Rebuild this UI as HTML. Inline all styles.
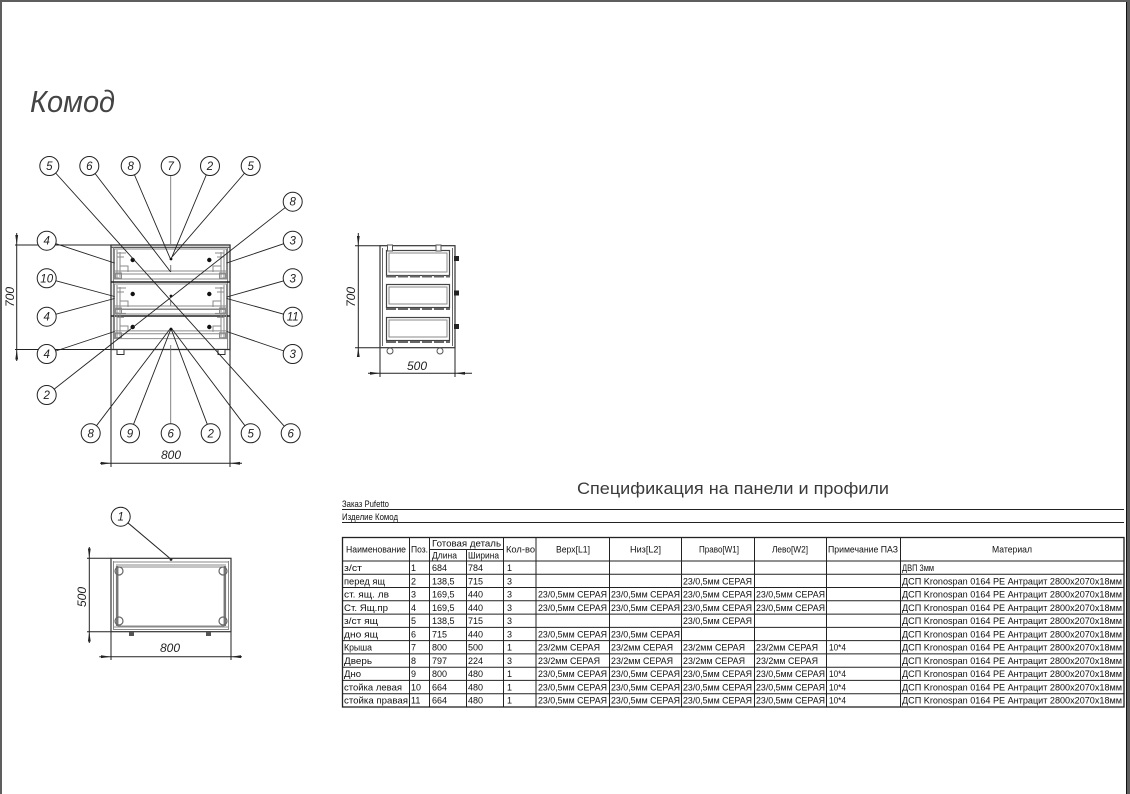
<!DOCTYPE html>
<html><head><meta charset="utf-8">
<style>
html,body{margin:0;padding:0;background:#5e5e5e;}
svg{display:block;}
text{font-family:"Liberation Sans","Noto Sans CJK SC",sans-serif;}
</style></head>
<body>
<svg width="1130" height="794" viewBox="0 0 1130 794" xmlns="http://www.w3.org/2000/svg">
<rect x="0" y="0" width="1130" height="794" fill="#5e5e5e"/>
<rect x="2" y="2" width="1124" height="792" fill="#fff"/>
<line x1="1126.5" y1="2" x2="1126.5" y2="794" stroke="#111" stroke-width="1"/>

<!-- Title -->
<text x="30" y="112" font-size="31" font-style="italic" fill="#444" textLength="85" lengthAdjust="spacingAndGlyphs">Комод</text>

<!-- ===== FRONT VIEW ===== -->
<g stroke="#222" fill="none" stroke-width="1">
  <line x1="15" y1="245" x2="111" y2="245"/>
  <line x1="15" y1="349.5" x2="111" y2="349.5"/>
  <line x1="16.7" y1="233" x2="16.7" y2="361"/>
  <line x1="111" y1="349" x2="111" y2="467"/>
  <line x1="230" y1="349" x2="230" y2="467"/>
  <line x1="100" y1="463.3" x2="242" y2="463.3"/>
</g>
<g fill="#222">
  <polygon points="16.7,245 15.3,235 18.1,235"/>
  <polygon points="16.7,349.5 15.3,359.5 18.1,359.5"/>
  <polygon points="111,463.3 101,461.9 101,464.7"/>
  <polygon points="230,463.3 240,461.9 240,464.7"/>
</g>
<text x="0" y="0" font-size="12" font-style="italic" fill="#222" text-anchor="middle" transform="translate(14,297) rotate(-90)">700</text>
<text x="171" y="459" font-size="12" font-style="italic" fill="#222" text-anchor="middle">800</text>

<g fill="none">
  <rect x="111" y="245" width="119" height="104.5" stroke="#333" stroke-width="1.3"/>
  <line x1="111" y1="247.3" x2="230" y2="247.3" stroke="#444" stroke-width="1.2"/>
  <line x1="113.4" y1="247" x2="113.4" y2="349" stroke="#777" stroke-width="1"/>
  <line x1="227.6" y1="247" x2="227.6" y2="349" stroke="#777" stroke-width="1"/>
  <line x1="111" y1="282" x2="230" y2="282" stroke="#222" stroke-width="1.6"/>
  <line x1="111" y1="316" x2="230" y2="316" stroke="#222" stroke-width="1.6"/>
</g>
<g id="dr1" fill="none" stroke="#8a8a8a" stroke-width="1">
  <rect x="114.5" y="249" width="112" height="30"/>
  <line x1="114" y1="271" x2="227" y2="271"/>
  <line x1="114" y1="274" x2="227" y2="274"/>
  <line x1="117" y1="250" x2="117" y2="279"/>
  <line x1="120" y1="252" x2="120" y2="277"/>
  <line x1="117" y1="253" x2="126" y2="253"/>
  <line x1="117" y1="257" x2="124" y2="257"/>
  <polyline points="120,266 128,266 128,272"/>
  <rect x="115.5" y="273" width="6" height="5"/>
  <line x1="224" y1="250" x2="224" y2="279"/>
  <line x1="221" y1="252" x2="221" y2="277"/>
  <line x1="224" y1="253" x2="215" y2="253"/>
  <line x1="224" y1="257" x2="217" y2="257"/>
  <polyline points="221,266 213,266 213,272"/>
  <rect x="219.5" y="273" width="6" height="5"/>
</g>
<use href="#dr1" transform="translate(0,35)"/>
<use href="#dr1" transform="translate(0,68) scale(1,0.97)"/>
<g fill="#fff" stroke="#333" stroke-width="1">
  <rect x="117" y="349.5" width="7" height="5"/>
  <rect x="218" y="349.5" width="7" height="5"/>
</g>
<g fill="#111">
  <circle cx="132.7" cy="260" r="2.2"/>
  <circle cx="209.3" cy="260" r="2.2"/>
  <circle cx="132.7" cy="294" r="2.2"/>
  <circle cx="209.3" cy="294" r="2.2"/>
  <circle cx="132.7" cy="327" r="2.2"/>
  <circle cx="209.3" cy="327" r="2.2"/>
  <circle cx="171" cy="259" r="1.4"/>
  <circle cx="171" cy="296" r="1.4"/>
  <circle cx="171" cy="329" r="1.4"/>
</g>
<g stroke="#777" stroke-width="1">
  <line x1="170.7" y1="265" x2="170.7" y2="272"/>
  <line x1="170.7" y1="300" x2="170.7" y2="306"/>
</g>

<g stroke="#222" stroke-width="0.9" fill="none">
  <line x1="49.3" y1="166" x2="290.7" y2="433.3"/>
  <line x1="89.3" y1="166" x2="170.7" y2="272"/>
  <line x1="130.7" y1="166" x2="170" y2="258"/>
  <line x1="170.7" y1="166" x2="170.7" y2="245" stroke="#777"/>
  <line x1="210" y1="166" x2="171.5" y2="258"/>
  <line x1="250.7" y1="166" x2="172" y2="257"/>
  <line x1="292.7" y1="201.7" x2="46.7" y2="395"/>
  <line x1="292.7" y1="240.7" x2="226.7" y2="263"/>
  <line x1="292.7" y1="278.3" x2="226.7" y2="297"/>
  <line x1="292.7" y1="316.7" x2="226.7" y2="298.5"/>
  <line x1="292.7" y1="354" x2="226.7" y2="331.5"/>
  <line x1="46.7" y1="240.7" x2="114.5" y2="263"/>
  <line x1="46.7" y1="278.3" x2="114.5" y2="296.5"/>
  <line x1="46.7" y1="316.7" x2="114.5" y2="298.5"/>
  <line x1="46.7" y1="354" x2="114.5" y2="331.5"/>
  <line x1="90.7" y1="433.3" x2="170" y2="329"/>
  <line x1="130" y1="433.3" x2="170.5" y2="330"/>
  <line x1="170.7" y1="433.3" x2="170.7" y2="345" stroke="#777"/>
  <line x1="210.7" y1="433.3" x2="171.5" y2="330"/>
  <line x1="250.7" y1="433.3" x2="172" y2="329"/>
</g>
<g fill="#fff" stroke="#222" stroke-width="1">
  <circle cx="49.3" cy="166" r="9.5"/><circle cx="89.3" cy="166" r="9.5"/><circle cx="130.7" cy="166" r="9.5"/>
  <circle cx="170.7" cy="166" r="9.5"/><circle cx="210" cy="166" r="9.5"/><circle cx="250.7" cy="166" r="9.5"/>
  <circle cx="292.7" cy="201.7" r="9.5"/><circle cx="292.7" cy="240.7" r="9.5"/><circle cx="292.7" cy="278.3" r="9.5"/>
  <circle cx="292.7" cy="316.7" r="9.5"/><circle cx="292.7" cy="354" r="9.5"/>
  <circle cx="46.7" cy="240.7" r="9.5"/><circle cx="46.7" cy="278.3" r="9.5"/><circle cx="46.7" cy="316.7" r="9.5"/>
  <circle cx="46.7" cy="354" r="9.5"/><circle cx="46.7" cy="395" r="9.5"/>
  <circle cx="90.7" cy="433.3" r="9.5"/><circle cx="130" cy="433.3" r="9.5"/><circle cx="170.7" cy="433.3" r="9.5"/>
  <circle cx="210.7" cy="433.3" r="9.5"/><circle cx="250.7" cy="433.3" r="9.5"/><circle cx="290.7" cy="433.3" r="9.5"/>
</g>
<g font-size="11.5" font-style="italic" fill="#222" text-anchor="middle">
  <text x="49.3" y="170">5</text><text x="89.3" y="170">6</text><text x="130.7" y="170">8</text>
  <text x="170.7" y="170">7</text><text x="210" y="170">2</text><text x="250.7" y="170">5</text>
  <text x="292.7" y="205.7">8</text><text x="292.7" y="244.7">3</text><text x="292.7" y="282.3">3</text>
  <text x="292.7" y="320.7">11</text><text x="292.7" y="358">3</text>
  <text x="46.7" y="244.7">4</text><text x="46.7" y="282.3">10</text><text x="46.7" y="320.7">4</text>
  <text x="46.7" y="358">4</text><text x="46.7" y="399">2</text>
  <text x="90.7" y="437.3">8</text><text x="130" y="437.3">9</text><text x="170.7" y="437.3">6</text>
  <text x="210.7" y="437.3">2</text><text x="250.7" y="437.3">5</text><text x="290.7" y="437.3">6</text>
</g>

<!-- ===== SIDE VIEW ===== -->
<g stroke="#222" fill="none" stroke-width="1">
  <line x1="355" y1="245.7" x2="380" y2="245.7"/>
  <line x1="355" y1="347.7" x2="380" y2="347.7"/>
  <line x1="358.3" y1="233" x2="358.3" y2="357"/>
  <line x1="380" y1="348" x2="380" y2="377"/>
  <line x1="455" y1="348" x2="455" y2="377"/>
  <line x1="368" y1="373.3" x2="472" y2="373.3"/>
</g>
<g fill="#222">
  <polygon points="358.3,245.7 356.9,236 359.7,236"/>
  <polygon points="358.3,347.7 356.9,357 359.7,357"/>
  <polygon points="380,373.3 370,371.9 370,374.7"/>
  <polygon points="455,373.3 465,371.9 465,374.7"/>
</g>
<text x="0" y="0" font-size="12" font-style="italic" fill="#222" text-anchor="middle" transform="translate(355,297) rotate(-90)">700</text>
<text x="417" y="370" font-size="12" font-style="italic" fill="#222" text-anchor="middle">500</text>
<g fill="none">
  <rect x="380" y="245.7" width="75" height="102" stroke="#333" stroke-width="1.2"/>
  <line x1="382.5" y1="248" x2="382.5" y2="346" stroke="#666"/>
  <line x1="452.5" y1="248" x2="452.5" y2="346" stroke="#666"/>
  <g stroke="#444" stroke-width="1.2">
    <rect x="386.5" y="250.5" width="63" height="25"/>
    <rect x="386.5" y="284.5" width="63" height="23"/>
    <rect x="386.5" y="317.5" width="63" height="23"/>
  </g>
  <g stroke="#8a8a8a" stroke-width="1">
    <rect x="389" y="253" width="58" height="19"/>
    <rect x="389" y="287" width="58" height="17"/>
    <rect x="389" y="320" width="58" height="17"/>
  </g>
  <g stroke="#666" stroke-width="2" stroke-dasharray="10,2">
    <line x1="386" y1="276.5" x2="450" y2="276.5"/>
    <line x1="386" y1="309" x2="450" y2="309"/>
    <line x1="386" y1="342" x2="450" y2="342"/>
  </g>
</g>
<g fill="#222">
  <rect x="454" y="256" width="5" height="5"/>
  <rect x="454" y="290.5" width="5" height="5"/>
  <rect x="454" y="324" width="5" height="5"/>
</g>
<g fill="#fff" stroke="#555" stroke-width="1">
  <rect x="387.5" y="245" width="5" height="6"/>
  <rect x="436" y="245" width="5" height="6"/>
  <circle cx="390" cy="351" r="3"/>
  <circle cx="440" cy="351" r="3"/>
</g>

<!-- ===== TOP VIEW ===== -->
<g stroke="#222" fill="none" stroke-width="1">
  <line x1="87" y1="558.3" x2="111" y2="558.3"/>
  <line x1="87" y1="631.7" x2="111" y2="631.7"/>
  <line x1="89.3" y1="547" x2="89.3" y2="643"/>
  <line x1="111" y1="632" x2="111" y2="660"/>
  <line x1="231" y1="632" x2="231" y2="660"/>
  <line x1="99.3" y1="656.7" x2="242" y2="656.7"/>
  <line x1="120.7" y1="516.7" x2="171" y2="559.3"/>
</g>
<g fill="#222">
  <polygon points="89.3,558.3 87.9,548.5 90.7,548.5"/>
  <polygon points="89.3,631.7 87.9,641.5 90.7,641.5"/>
  <polygon points="111,656.7 101,655.3 101,658.1"/>
  <polygon points="231,656.7 241,655.3 241,658.1"/>
  <circle cx="171" cy="559.5" r="1.4"/>
</g>
<circle cx="120.7" cy="516.7" r="9.5" fill="#fff" stroke="#222"/>
<text x="120.7" y="520.7" font-size="11.5" font-style="italic" fill="#222" text-anchor="middle">1</text>
<text x="0" y="0" font-size="12" font-style="italic" fill="#222" text-anchor="middle" transform="translate(86,597) rotate(-90)">500</text>
<text x="170" y="652" font-size="12" font-style="italic" fill="#222" text-anchor="middle">800</text>
<g fill="none">
  <rect x="111" y="558.3" width="120" height="73.4" stroke="#333" stroke-width="1.2"/>
  <g stroke="#888" stroke-width="1">
    <line x1="113" y1="562" x2="229" y2="562"/>
    <line x1="116" y1="565" x2="226" y2="565"/>
    <rect x="118" y="567" width="106" height="59"/>
    <line x1="114" y1="627" x2="228" y2="627"/>
    <line x1="114" y1="629.5" x2="228" y2="629.5"/>
    <line x1="113.5" y1="561" x2="113.5" y2="630"/>
    <line x1="228.5" y1="561" x2="228.5" y2="630"/>
  </g>
  <g stroke="#777" stroke-width="2.2">
    <line x1="117" y1="566" x2="117" y2="626"/>
    <line x1="225" y1="566" x2="225" y2="626"/>
  </g>
  <g stroke="#666" stroke-width="1.2">
    <circle cx="119" cy="571" r="4"/><circle cx="223" cy="571" r="4"/>
    <circle cx="119" cy="621" r="4"/><circle cx="223" cy="621" r="4"/>
  </g>
</g>
<g fill="#555">
  <rect x="129" y="632" width="5" height="4"/>
  <rect x="206" y="632" width="5" height="4"/>
</g>

<!-- ===== SPECIFICATION ===== -->
<text x="577" y="494" font-size="17" fill="#3a3a3a" textLength="312" lengthAdjust="spacingAndGlyphs">Спецификация на панели и профили</text>
<g font-size="9.5" fill="#111">
  <text x="342" y="507" textLength="47" lengthAdjust="spacingAndGlyphs">Заказ  Pufetto</text>
  <text x="342" y="520" textLength="56" lengthAdjust="spacingAndGlyphs">Изделие  Комод</text>
</g>
<g stroke="#222" stroke-width="1">
  <line x1="342" y1="509.5" x2="1124" y2="509.5"/>
  <line x1="342" y1="522.5" x2="1124" y2="522.5"/>
</g>

<g stroke="#222" stroke-width="1" fill="none">
  <rect x="342.5" y="537.5" width="781.5" height="169.5" stroke-width="1.3"/>
  <line x1="409.5" y1="537.5" x2="409.5" y2="707"/>
  <line x1="429.5" y1="537.5" x2="429.5" y2="707"/>
  <line x1="466.5" y1="549.5" x2="466.5" y2="707"/>
  <line x1="503.5" y1="537.5" x2="503.5" y2="707"/>
  <line x1="536" y1="537.5" x2="536" y2="707"/>
  <line x1="609.5" y1="537.5" x2="609.5" y2="707"/>
  <line x1="681.5" y1="537.5" x2="681.5" y2="707"/>
  <line x1="754.5" y1="537.5" x2="754.5" y2="707"/>
  <line x1="826.5" y1="537.5" x2="826.5" y2="707"/>
  <line x1="900.5" y1="537.5" x2="900.5" y2="707"/>
  <line x1="429.5" y1="549.5" x2="503.5" y2="549.5"/>
  <line x1="342.5" y1="561" x2="1124" y2="561"/>
  <line x1="342.5" y1="574.3" x2="1124" y2="574.3"/>
  <line x1="342.5" y1="587.5" x2="1124" y2="587.5"/>
  <line x1="342.5" y1="600.8" x2="1124" y2="600.8"/>
  <line x1="342.5" y1="614.1" x2="1124" y2="614.1"/>
  <line x1="342.5" y1="627.4" x2="1124" y2="627.4"/>
  <line x1="342.5" y1="640.6" x2="1124" y2="640.6"/>
  <line x1="342.5" y1="653.9" x2="1124" y2="653.9"/>
  <line x1="342.5" y1="667.2" x2="1124" y2="667.2"/>
  <line x1="342.5" y1="680.4" x2="1124" y2="680.4"/>
  <line x1="342.5" y1="693.7" x2="1124" y2="693.7"/>
</g>

<g font-size="9" fill="#111">
  <text x="346" y="552.5" textLength="60" lengthAdjust="spacingAndGlyphs">Наименование</text>
  <text x="411" y="552.5" textLength="17" lengthAdjust="spacingAndGlyphs">Поз.</text>
  <text x="432" y="546.5" textLength="69" lengthAdjust="spacingAndGlyphs">Готовая  деталь</text>
  <text x="432" y="558.5" textLength="25" lengthAdjust="spacingAndGlyphs">Длина</text>
  <text x="468" y="558.5" textLength="31" lengthAdjust="spacingAndGlyphs">Ширина</text>
  <text x="506" y="552.5" textLength="29" lengthAdjust="spacingAndGlyphs">Кол-во</text>
  <text x="556" y="552.5" textLength="34" lengthAdjust="spacingAndGlyphs">Верх[L1]</text>
  <text x="630" y="552.5" textLength="31" lengthAdjust="spacingAndGlyphs">Низ[L2]</text>
  <text x="699" y="552.5" textLength="40" lengthAdjust="spacingAndGlyphs">Право[W1]</text>
  <text x="772" y="552.5" textLength="36" lengthAdjust="spacingAndGlyphs">Лево[W2]</text>
  <text x="828" y="552.5" textLength="70" lengthAdjust="spacingAndGlyphs">Примечание  ПАЗ</text>
  <text x="992" y="552.5" textLength="40" lengthAdjust="spacingAndGlyphs">Материал</text>
</g>

<g font-size="9" fill="#111">
  <text x="344" y="571" textLength="18" lengthAdjust="spacingAndGlyphs">з/ст</text>
  <text x="411" y="571">1</text><text x="432" y="571">684</text><text x="468" y="571">784</text><text x="507" y="571">1</text>
  <text x="902" y="571" textLength="32" lengthAdjust="spacingAndGlyphs">ДВП    3мм</text>

  <text x="344" y="584.3" textLength="41" lengthAdjust="spacingAndGlyphs">перед  ящ</text>
  <text x="411" y="584.3">2</text><text x="432" y="584.3">138,5</text><text x="468" y="584.3">715</text><text x="507" y="584.3">3</text>
  <text x="683" y="584.3" textLength="69" lengthAdjust="spacingAndGlyphs">23/0,5мм  СЕРАЯ</text>
  <text x="902" y="584.3" textLength="220" lengthAdjust="spacingAndGlyphs">ДСП  Kronospan  0164  PE  Антрацит  2800x2070x18мм</text>

  <text x="344" y="597.5" textLength="45" lengthAdjust="spacingAndGlyphs">ст.  ящ.  лв</text>
  <text x="411" y="597.5">3</text><text x="432" y="597.5">169,5</text><text x="468" y="597.5">440</text><text x="507" y="597.5">3</text>
  <text x="538" y="597.5" textLength="69" lengthAdjust="spacingAndGlyphs">23/0,5мм  СЕРАЯ</text>
  <text x="611" y="597.5" textLength="69" lengthAdjust="spacingAndGlyphs">23/0,5мм  СЕРАЯ</text>
  <text x="683" y="597.5" textLength="69" lengthAdjust="spacingAndGlyphs">23/0,5мм  СЕРАЯ</text>
  <text x="756" y="597.5" textLength="69" lengthAdjust="spacingAndGlyphs">23/0,5мм  СЕРАЯ</text>
  <text x="902" y="597.5" textLength="220" lengthAdjust="spacingAndGlyphs">ДСП  Kronospan  0164  PE  Антрацит  2800x2070x18мм</text>

  <text x="344" y="610.8" textLength="44" lengthAdjust="spacingAndGlyphs">Ст.  Ящ.пр</text>
  <text x="411" y="610.8">4</text><text x="432" y="610.8">169,5</text><text x="468" y="610.8">440</text><text x="507" y="610.8">3</text>
  <text x="538" y="610.8" textLength="69" lengthAdjust="spacingAndGlyphs">23/0,5мм  СЕРАЯ</text>
  <text x="611" y="610.8" textLength="69" lengthAdjust="spacingAndGlyphs">23/0,5мм  СЕРАЯ</text>
  <text x="683" y="610.8" textLength="69" lengthAdjust="spacingAndGlyphs">23/0,5мм  СЕРАЯ</text>
  <text x="756" y="610.8" textLength="69" lengthAdjust="spacingAndGlyphs">23/0,5мм  СЕРАЯ</text>
  <text x="902" y="610.8" textLength="220" lengthAdjust="spacingAndGlyphs">ДСП  Kronospan  0164  PE  Антрацит  2800x2070x18мм</text>

  <text x="344" y="624.1" textLength="34" lengthAdjust="spacingAndGlyphs">з/ст  ящ</text>
  <text x="411" y="624.1">5</text><text x="432" y="624.1">138,5</text><text x="468" y="624.1">715</text><text x="507" y="624.1">3</text>
  <text x="683" y="624.1" textLength="69" lengthAdjust="spacingAndGlyphs">23/0,5мм  СЕРАЯ</text>
  <text x="902" y="624.1" textLength="220" lengthAdjust="spacingAndGlyphs">ДСП  Kronospan  0164  PE  Антрацит  2800x2070x18мм</text>

  <text x="344" y="637.4" textLength="34" lengthAdjust="spacingAndGlyphs">дно  ящ</text>
  <text x="411" y="637.4">6</text><text x="432" y="637.4">715</text><text x="468" y="637.4">440</text><text x="507" y="637.4">3</text>
  <text x="538" y="637.4" textLength="69" lengthAdjust="spacingAndGlyphs">23/0,5мм  СЕРАЯ</text>
  <text x="611" y="637.4" textLength="69" lengthAdjust="spacingAndGlyphs">23/0,5мм  СЕРАЯ</text>
  <text x="902" y="637.4" textLength="220" lengthAdjust="spacingAndGlyphs">ДСП  Kronospan  0164  PE  Антрацит  2800x2070x18мм</text>

  <text x="344" y="650.6" textLength="28" lengthAdjust="spacingAndGlyphs">Крыша</text>
  <text x="411" y="650.6">7</text><text x="432" y="650.6">800</text><text x="468" y="650.6">500</text><text x="507" y="650.6">1</text>
  <text x="538" y="650.6" textLength="62" lengthAdjust="spacingAndGlyphs">23/2мм  СЕРАЯ</text>
  <text x="611" y="650.6" textLength="62" lengthAdjust="spacingAndGlyphs">23/2мм  СЕРАЯ</text>
  <text x="683" y="650.6" textLength="62" lengthAdjust="spacingAndGlyphs">23/2мм  СЕРАЯ</text>
  <text x="756" y="650.6" textLength="62" lengthAdjust="spacingAndGlyphs">23/2мм  СЕРАЯ</text>
  <text x="829" y="650.6" textLength="17" lengthAdjust="spacingAndGlyphs">10*4</text>
  <text x="902" y="650.6" textLength="220" lengthAdjust="spacingAndGlyphs">ДСП  Kronospan  0164  PE  Антрацит  2800x2070x18мм</text>

  <text x="344" y="663.9" textLength="28" lengthAdjust="spacingAndGlyphs">Дверь</text>
  <text x="411" y="663.9">8</text><text x="432" y="663.9">797</text><text x="468" y="663.9">224</text><text x="507" y="663.9">3</text>
  <text x="538" y="663.9" textLength="62" lengthAdjust="spacingAndGlyphs">23/2мм  СЕРАЯ</text>
  <text x="611" y="663.9" textLength="62" lengthAdjust="spacingAndGlyphs">23/2мм  СЕРАЯ</text>
  <text x="683" y="663.9" textLength="62" lengthAdjust="spacingAndGlyphs">23/2мм  СЕРАЯ</text>
  <text x="756" y="663.9" textLength="62" lengthAdjust="spacingAndGlyphs">23/2мм  СЕРАЯ</text>
  <text x="902" y="663.9" textLength="220" lengthAdjust="spacingAndGlyphs">ДСП  Kronospan  0164  PE  Антрацит  2800x2070x18мм</text>

  <text x="344" y="677.2" textLength="17" lengthAdjust="spacingAndGlyphs">Дно</text>
  <text x="411" y="677.2">9</text><text x="432" y="677.2">800</text><text x="468" y="677.2">480</text><text x="507" y="677.2">1</text>
  <text x="538" y="677.2" textLength="69" lengthAdjust="spacingAndGlyphs">23/0,5мм  СЕРАЯ</text>
  <text x="611" y="677.2" textLength="69" lengthAdjust="spacingAndGlyphs">23/0,5мм  СЕРАЯ</text>
  <text x="683" y="677.2" textLength="69" lengthAdjust="spacingAndGlyphs">23/0,5мм  СЕРАЯ</text>
  <text x="756" y="677.2" textLength="69" lengthAdjust="spacingAndGlyphs">23/0,5мм  СЕРАЯ</text>
  <text x="829" y="677.2" textLength="17" lengthAdjust="spacingAndGlyphs">10*4</text>
  <text x="902" y="677.2" textLength="220" lengthAdjust="spacingAndGlyphs">ДСП  Kronospan  0164  PE  Антрацит  2800x2070x18мм</text>

  <text x="344" y="690.4" textLength="58" lengthAdjust="spacingAndGlyphs">стойка  левая</text>
  <text x="411" y="690.4">10</text><text x="432" y="690.4">664</text><text x="468" y="690.4">480</text><text x="507" y="690.4">1</text>
  <text x="538" y="690.4" textLength="69" lengthAdjust="spacingAndGlyphs">23/0,5мм  СЕРАЯ</text>
  <text x="611" y="690.4" textLength="69" lengthAdjust="spacingAndGlyphs">23/0,5мм  СЕРАЯ</text>
  <text x="683" y="690.4" textLength="69" lengthAdjust="spacingAndGlyphs">23/0,5мм  СЕРАЯ</text>
  <text x="756" y="690.4" textLength="69" lengthAdjust="spacingAndGlyphs">23/0,5мм  СЕРАЯ</text>
  <text x="829" y="690.4" textLength="17" lengthAdjust="spacingAndGlyphs">10*4</text>
  <text x="902" y="690.4" textLength="220" lengthAdjust="spacingAndGlyphs">ДСП  Kronospan  0164  PE  Антрацит  2800x2070x18мм</text>

  <text x="344" y="703.7" textLength="64" lengthAdjust="spacingAndGlyphs">стойка  правая</text>
  <text x="411" y="703.7">11</text><text x="432" y="703.7">664</text><text x="468" y="703.7">480</text><text x="507" y="703.7">1</text>
  <text x="538" y="703.7" textLength="69" lengthAdjust="spacingAndGlyphs">23/0,5мм  СЕРАЯ</text>
  <text x="611" y="703.7" textLength="69" lengthAdjust="spacingAndGlyphs">23/0,5мм  СЕРАЯ</text>
  <text x="683" y="703.7" textLength="69" lengthAdjust="spacingAndGlyphs">23/0,5мм  СЕРАЯ</text>
  <text x="756" y="703.7" textLength="69" lengthAdjust="spacingAndGlyphs">23/0,5мм  СЕРАЯ</text>
  <text x="829" y="703.7" textLength="17" lengthAdjust="spacingAndGlyphs">10*4</text>
  <text x="902" y="703.7" textLength="220" lengthAdjust="spacingAndGlyphs">ДСП  Kronospan  0164  PE  Антрацит  2800x2070x18мм</text>
</g>
</svg>
</body></html>
